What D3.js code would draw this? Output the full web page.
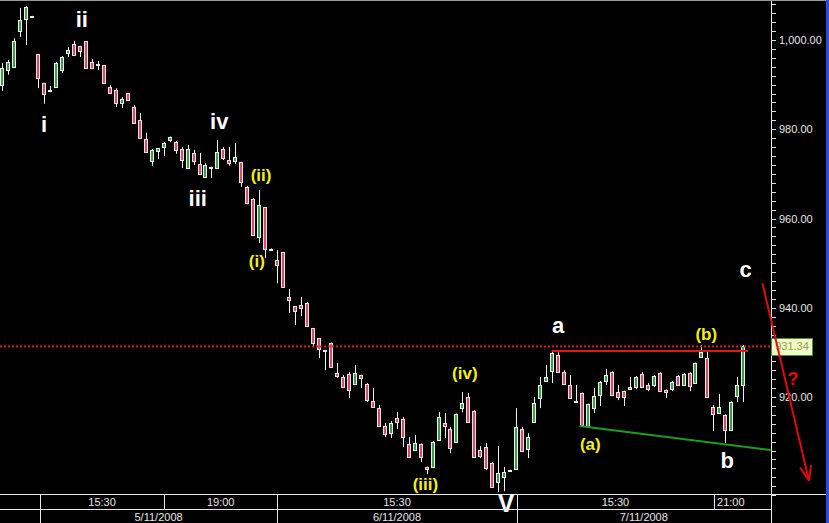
<!DOCTYPE html>
<html><head><meta charset="utf-8">
<script src="https://cdn.jsdelivr.net/npm/d3@7"></script>
<style>
html,body{margin:0;padding:0;background:#000;overflow:hidden}
svg{display:block}
</style></head><body>
<svg id="chart" width="829" height="523"></svg>
<script>
// ---- DATA (hourly candles, 5/11/2008 - 7/11/2008) ----
const open = [989.9,993.3,993.9,1002.0,1004.7,1005.2,996.9,990.4,988.6,989.5,
993.3,997.1,999.1,998.7,999.8,995.1,994.6,994.4,989.5,988.8,
985.9,988.1,985.0,982.1,977.8,972.9,975.1,976.0,977.6,977.1,
975.6,971.3,974.7,972.2,969.3,971.5,971.3,975.6,973.1,972.9,
972.7,967.1,964.4,955.9,962.6,953.1,950.7,952.5,942.4,940.4,
940.6,941.1,935.5,933.2,930.5,932.1,925.4,924.5,925.1,922.9,
924.9,922.9,919.1,917.5,913.5,911.9,915.3,915.1,909.5,908.1,
909.5,904.3,904.3,910.4,914.2,912.8,909.9,917.5,920.0,916.9,
908.1,908.8,905.2,900.9,902.1,903.4,903.9,912.8,908.3,914.4,
919.8,923.6,925.8,929.4,925.6,922.7,919.1,920.9,913.5,917.5,
920.4,923.6,925.6,921.1,921.3,921.8,922.2,925.1,922.7,922.7,
925.4,921.6,921.8,924.7,922.7,925.4,923.1,929.0,928.7,917.8,
916.4,916.0,912.6,920.2,922.7];
const high = [994.8,995.5,1000.4,1007.2,1007.6,1005.4,996.9,990.4,989.7,995.1,
996.4,998.4,999.8,998.7,999.8,995.7,995.3,994.4,989.9,989.2,
987.2,988.1,985.4,983.6,979.2,975.6,975.8,977.1,978.4,977.4,
976.0,976.5,975.4,974.7,972.4,971.6,977.6,976.0,976.0,976.9,
972.7,967.3,964.6,966.4,962.6,953.3,952.9,952.5,944.2,940.4,
942.4,941.3,935.5,933.2,930.5,932.2,927.6,924.9,925.6,927.2,
925.0,923.1,922.0,918.2,914.2,914.6,916.6,915.5,911.0,911.5,
909.6,904.4,910.1,916.6,916.4,913.3,916.3,921.1,920.9,917.0,
909.0,909.7,905.4,909.0,904.3,903.7,917.5,913.3,911.9,920.0,
924.5,927.2,930.3,930.0,926.0,924.9,922.7,921.0,918.5,922.0,
923.6,926.3,925.7,922.7,921.4,924.5,924.7,925.6,923.1,924.9,
925.5,921.7,923.6,924.9,925.4,925.5,927.7,931.6,930.2,918.2,
920.7,916.1,919.0,924.5,931.6];
const low = [988.6,992.2,993.7,1000.7,998.9,1004.9,989.2,985.7,988.3,989.4,
992.6,996.2,996.4,996.2,993.6,993.5,993.3,990.3,987.9,985.0,
984.8,986.3,981.3,977.9,974.8,971.8,973.3,974.0,977.1,974.5,
971.3,971.2,972.0,969.9,969.2,969.1,971.2,973.1,971.8,972.2,
967.1,963.2,956.1,954.5,951.1,953.0,945.5,944.5,938.8,936.1,
938.1,935.8,931.2,928.7,926.0,926.6,924.3,922.1,919.8,922.7,
922.0,918.9,917.7,913.4,911.0,910.8,912.8,908.8,906.4,907.9,
905.4,902.7,904.1,910.3,910.8,907.4,909.8,916.6,914.3,906.4,
906.3,903.6,899.7,898.7,898.9,903.2,903.8,907.7,906.3,914.3,
917.5,923.5,923.1,925.5,922.8,919.7,918.8,913.6,913.4,916.4,
918.0,922.7,920.3,919.3,918.0,921.7,921.7,922.1,921.3,922.2,
921.1,919.8,921.3,922.6,922.6,921.3,923.0,928.9,919.9,912.4,
916.3,909.7,912.5,918.9,918.9];
const close = [993.7,995.1,999.8,1004.5,1007.4,1005.3,991.5,987.9,988.8,994.8,
996.2,997.8,996.6,997.5,993.7,993.7,994.4,990.4,988.1,985.9,
986.8,986.6,981.4,978.0,974.9,975.4,975.8,976.9,978.3,975.4,
973.1,975.6,972.9,970.0,972.0,971.3,974.9,973.6,972.4,973.8,
968.2,963.5,956.3,963.0,953.2,953.2,949.6,944.6,941.7,939.3,
939.9,935.9,932.1,930.8,930.3,926.7,924.7,922.2,921.6,925.4,
924.3,919.3,917.8,913.5,911.7,914.2,914.4,911.0,906.5,909.7,
906.5,903.9,909.9,915.5,913.5,908.6,916.2,918.7,914.4,906.5,
906.8,904.1,899.8,903.0,903.2,903.6,913.3,907.9,911.0,918.7,
922.7,924.5,929.9,925.6,922.9,919.8,918.9,913.7,918.4,920.2,
923.4,924.9,920.4,920.0,920.0,922.2,924.5,922.2,921.8,924.7,
921.3,921.1,923.4,922.7,925.1,922.5,927.6,930.1,920.0,916.2,
917.8,912.6,918.9,922.7,931.34];

const lastPrice = 931.34;
const priceTicks = [920, 940, 960, 980, 1000];
const timeLabels = ["15:30", "19:00", "15:30", "15:30", "21:00"];
const timeEdges = [6.3, 27.1, 46.0, 86.1, 119.1, 128.6];   // in candle-index units
const dateLabels = ["5/11/2008", "6/11/2008", "7/11/2008"];
const dateEdges = [6.3, 46.0, 86.1, 128.6];

// annotations (candle index, price)
const levelA = {from: 91.9, to: 124.8, price: 930.3};
const trendLine = [[96.6, 913.5], [128.6, 908.1]];
const arrowPts = [[127.2, 945.5], [135.0, 901.2]];
const whiteLabels = [
  {t: "i", i: 7.0, p: 979.4}, {t: "ii", i: 13.3, p: 1002.9},
  {t: "iii", i: 32.7, p: 962.8}, {t: "iv", i: 36.3, p: 980.05},
  {t: "a", i: 93.0, p: 934.3}, {t: "b", i: 121.3, p: 904.1},
  {t: "c", i: 124.4, p: 946.9}
];
const yellowLabels = [
  {t: "(ii)", i: 43.3, p: 968.4}, {t: "(i)", i: 42.6, p: 949.1},
  {t: "(iii)", i: 70.8, p: 899.2}, {t: "(iv)", i: 77.4, p: 924.0},
  {t: "(a)", i: 98.4, p: 908.1}, {t: "(b)", i: 117.8, p: 932.8}
];
const bigLabel = {t: "V", i: 84.3, p: 894.2};
const questionLabel = {t: "?", i: 132.3, p: 922.7};

// ---- LAYOUT ----
const W = 829, H = 523;
const axisX = 771, plotBottom = 494, rowSplit = 509;
const x = d3.scaleLinear().domain([0, 124]).range([2.3, 743.3]);
const y = d3.scaleLinear().domain([920, 1000]).range([397, 40]);
const FONT = "'Liberation Sans', Arial, sans-serif";

const svg = d3.select("#chart");
svg.append("rect").attr("width", W).attr("height", H).attr("fill", "#000");
svg.append("defs").append("clipPath").attr("id", "plotclip")
  .append("rect").attr("x", 0).attr("y", 0).attr("width", axisX).attr("height", plotBottom);

const data = open.map((o, i) => ({i, o, h: high[i], l: low[i], c: close[i]}));
const plot = svg.append("g").attr("clip-path", "url(#plotclip)");

// wicks
plot.selectAll("line.wick").data(data).join("line")
  .attr("class", "wick")
  .attr("x1", d => Math.round(x(d.i)) + 0.5).attr("x2", d => Math.round(x(d.i)) + 0.5)
  .attr("y1", d => y(d.h)).attr("y2", d => y(d.l))
  .attr("stroke", "#f2f2f2").attr("stroke-width", 1);

// bodies
plot.selectAll("rect.body").data(data).join("rect")
  .attr("class", "body")
  .attr("x", d => Math.round(x(d.i)) - 1.5)
  .attr("width", 3)
  .attr("y", d => Math.round(y(Math.max(d.o, d.c))) + 0.5)
  .attr("height", d => Math.max(Math.round(y(Math.min(d.o, d.c))) - Math.round(y(Math.max(d.o, d.c))), 1))
  .attr("fill", d => d.c >= d.o ? "#3d9b4a" : "#c9516c")
  .attr("stroke", d => d.c >= d.o ? "#e8f4e8" : "#f6dde3")
  .attr("stroke-width", 1);

// last price dotted line
plot.append("line")
  .attr("x1", 0).attr("x2", axisX).attr("y1", y(lastPrice)).attr("y2", y(lastPrice))
  .attr("stroke", "#d81e1e").attr("stroke-width", 2).attr("stroke-dasharray", "2,2");

// level a
plot.append("line")
  .attr("x1", x(levelA.from)).attr("x2", x(levelA.to))
  .attr("y1", y(levelA.price)).attr("y2", y(levelA.price))
  .attr("stroke", "#e01818").attr("stroke-width", 2);

// green trend line
plot.append("line")
  .attr("x1", x(trendLine[0][0])).attr("y1", y(trendLine[0][1]))
  .attr("x2", x(trendLine[1][0])).attr("y2", y(trendLine[1][1]))
  .attr("stroke", "#1f9a22").attr("stroke-width", 2);

// ---- right price axis ----
svg.append("line").attr("x1", axisX + 0.5).attr("x2", axisX + 0.5).attr("y1", 0).attr("y2", H)
  .attr("stroke", "#e8e8e8");
svg.selectAll("line.minor").data(d3.range(898, 1010, 2)).join("line")
  .attr("class", "minor")
  .attr("x1", axisX).attr("x2", axisX + 5)
  .attr("y1", d => Math.round(y(d)) + 0.5).attr("y2", d => Math.round(y(d)) + 0.5)
  .attr("stroke", "#e8e8e8");
svg.selectAll("text.ptick").data(priceTicks).join("text")
  .attr("class", "ptick")
  .attr("x", axisX + 8).attr("y", d => y(d) + 4)
  .attr("fill", "#e6e6e6").attr("font-family", FONT).attr("font-size", 11)
  .text(d => d3.format(",.2f")(d));

// last price box
const boxH = 17;
svg.append("rect").attr("x", axisX + 0.5).attr("y", Math.round(y(lastPrice) - boxH / 2) + 0.5)
  .attr("width", 41).attr("height", boxH)
  .attr("fill", "#f3f8c9").attr("stroke", "#3a963a");
svg.append("text").attr("x", axisX + 21).attr("y", y(lastPrice) + 4)
  .attr("text-anchor", "middle").attr("fill", "#8fa24a")
  .attr("font-family", FONT).attr("font-size", 11).text(d3.format(".2f")(lastPrice));

// ---- bottom time axis ----
svg.append("line").attr("x1", 0).attr("x2", W).attr("y1", plotBottom + 0.5).attr("y2", plotBottom + 0.5)
  .attr("stroke", "#e8e8e8");
svg.append("line").attr("x1", 0).attr("x2", axisX).attr("y1", rowSplit + 0.5).attr("y2", rowSplit + 0.5)
  .attr("stroke", "#e8e8e8");
const ex = v => Math.round(x(v)) + 0.5;
svg.selectAll("line.tsep").data(timeEdges.slice(0, -1)).join("line")
  .attr("class", "tsep")
  .attr("x1", ex).attr("x2", ex).attr("y1", plotBottom).attr("y2", rowSplit)
  .attr("stroke", "#e8e8e8");
svg.selectAll("line.dsep").data(dateEdges.slice(0, -1)).join("line")
  .attr("class", "dsep")
  .attr("x1", ex).attr("x2", ex).attr("y1", rowSplit).attr("y2", H)
  .attr("stroke", "#e8e8e8");
svg.selectAll("text.tlab").data(timeLabels).join("text")
  .attr("class", "tlab")
  .attr("x", (d, k) => {
    const a = x(timeEdges[k]), b = x(timeEdges[k + 1]);
    return (b - a) < 70 ? a + 3 : (a + b) / 2;
  })
  .attr("text-anchor", (d, k) => (x(timeEdges[k + 1]) - x(timeEdges[k])) < 70 ? "start" : "middle")
  .attr("y", 505.5)
  .attr("fill", "#e6e6e6").attr("font-family", FONT).attr("font-size", 11)
  .text(d => d);
svg.selectAll("text.dlab").data(dateLabels).join("text")
  .attr("class", "dlab")
  .attr("x", (d, k) => (x(dateEdges[k]) + x(dateEdges[k + 1])) / 2)
  .attr("text-anchor", "middle").attr("y", 520.5)
  .attr("fill", "#e6e6e6").attr("font-family", FONT).attr("font-size", 11)
  .text(d => d);

// ---- wave labels ----
svg.selectAll("text.wl").data(whiteLabels).join("text")
  .attr("class", "wl")
  .attr("x", d => x(d.i)).attr("y", d => y(d.p)).attr("text-anchor", "middle")
  .attr("fill", "#ffffff").attr("font-family", FONT).attr("font-weight", "bold")
  .attr("font-size", 22).text(d => d.t);
svg.selectAll("text.yl").data(yellowLabels).join("text")
  .attr("class", "yl")
  .attr("x", d => x(d.i)).attr("y", d => y(d.p)).attr("text-anchor", "middle")
  .attr("fill", "#f2ef1a").attr("font-family", FONT).attr("font-weight", "bold")
  .attr("font-size", 17).text(d => d.t);
svg.append("text").attr("x", x(bigLabel.i)).attr("y", y(bigLabel.p))
  .attr("text-anchor", "middle").attr("fill", "#ffffff")
  .attr("font-family", FONT).attr("font-weight", "bold").attr("font-size", 25)
  .text(bigLabel.t);

// ---- forecast arrow ----
const ax1 = x(arrowPts[0][0]), ay1 = y(arrowPts[0][1]);
const ax2 = x(arrowPts[1][0]), ay2 = y(arrowPts[1][1]);
svg.append("line").attr("x1", ax1).attr("y1", ay1).attr("x2", ax2).attr("y2", ay2)
  .attr("stroke", "#e00b0b").attr("stroke-width", 2);
const ang = Math.atan2(ay1 - ay2, ax1 - ax2);
[-0.36, 0.36].forEach(da => {
  svg.append("line").attr("x1", ax2).attr("y1", ay2)
    .attr("x2", ax2 + 16 * Math.cos(ang + da)).attr("y2", ay2 + 16 * Math.sin(ang + da))
    .attr("stroke", "#e00b0b").attr("stroke-width", 2);
});
svg.append("text").attr("x", x(questionLabel.i)).attr("y", y(questionLabel.p))
  .attr("text-anchor", "middle").attr("fill", "#e00b0b")
  .attr("font-family", FONT).attr("font-weight", "bold").attr("font-size", 18)
  .text(questionLabel.t);

// frame
svg.append("line").attr("x1", 0).attr("x2", 826).attr("y1", 0.5).attr("y2", 0.5).attr("stroke", "#9a9a9a");
svg.append("rect").attr("x", 826).attr("y", 0).attr("width", 3).attr("height", H).attr("fill", "#2a4fd6");
</script>
</body></html>
